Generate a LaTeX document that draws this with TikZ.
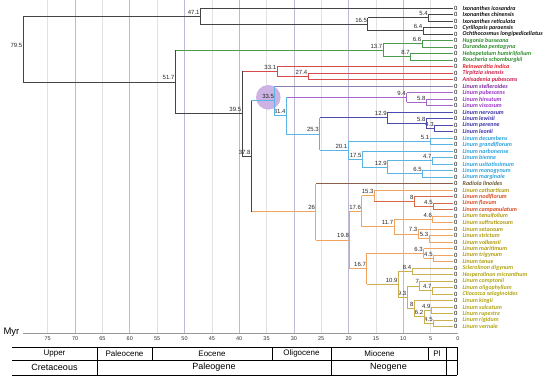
\documentclass[tikz,border=0pt]{standalone}
\usepackage{fontspec}
\setmainfont{Liberation Sans}
\newfontfamily\tipfont{Carlito}

% branch colours
\definecolor{lblk}{HTML}{444444}
\definecolor{lgrn}{HTML}{4E9A4E}
\definecolor{lred}{HTML}{D84A4A}
\definecolor{lpg}{HTML}{8C7FAE}
\definecolor{lpur}{HTML}{A566CC}
\definecolor{lind}{HTML}{4A4AB0}
\definecolor{lsky}{HTML}{5AB4E4}
\definecolor{lbrn}{HTML}{8C6048}
\definecolor{lora}{HTML}{F0A460}
\definecolor{lrdo}{HTML}{D86A48}
\definecolor{lgld}{HTML}{CCB050}
% label colours
\definecolor{tblk}{HTML}{111111}
\definecolor{tgrn}{HTML}{2E8B2E}
\definecolor{tred}{HTML}{E8202A}
\definecolor{tcrim}{HTML}{C8204C}
\definecolor{tpurd}{HTML}{7A2AA0}
\definecolor{tpur}{HTML}{9A30C8}
\definecolor{tind}{HTML}{3A30A8}
\definecolor{tsky}{HTML}{2AA0DC}
\definecolor{tbrn}{HTML}{6A5A30}
\definecolor{tolv}{HTML}{B09A10}
\definecolor{tora}{HTML}{D84A20}
\definecolor{tylw}{HTML}{B0A410}
% grid
\definecolor{gridb}{HTML}{BABAD6}
\definecolor{gridl}{HTML}{E2E2E2}
\definecolor{circ}{HTML}{CDB2E4}

\tikzset{
  agelbl/.style={anchor=south east, inner sep=0.6pt, yshift=1.2pt, text=black!85,
    font=\fontsize{6}{6}\selectfont},
  tiplbl/.style={anchor=west, inner sep=0pt,
    font=\tipfont\bfseries\itshape\fontsize{6}{6}\selectfont},
  zerolbl/.style={inner sep=0pt, font=\fontsize{6}{6}\selectfont},
  br/.style={line width=0.75pt},
  tick/.style={inner sep=0pt, text=black!80, font=\fontsize{5.5}{5.5}\selectfont},
  epoch/.style={inner sep=0pt, font=\fontsize{8}{8}\selectfont},
  period/.style={inner sep=0pt, font=\fontsize{9}{9}\selectfont},
}

% internal node: name, age (Myr), row
\newcommand{\clade}[3]{%
  \coordinate (#1) at ({458-5.47*#2},{1.5+6.5*#3});
  \node[agelbl] (#1l) at (#1) {#2};}

\begin{document}
\begin{tikzpicture}[x=1pt,y=-1pt]
\useasboundingbox (0,0) rectangle (550,380);

% time grid
\foreach \a in {5,15,...,75}
    \draw[gridl,line width=0.6pt] ({458-5.47*\a},0) -- ({458-5.47*\a},333);
\foreach \a in {10,20,...,70}
    \draw[gridb,line width=0.7pt] ({458-5.47*\a},0) -- ({458-5.47*\a},333);

% highlighted node
\fill[circ] (268.3,97.3) circle (12.3);

% internal nodes
\clade{n795}{79.5}{7.3203125}
\clade{n471}{47.1}{2.25}
\clade{n165}{16.5}{3.5}
\clade{n54}{5.4}{2.5}
\clade{n64}{6.4}{4.5}
\clade{n517}{51.7}{12.390625}
\clade{n137}{13.7}{7.5}
\clade{n66}{6.6}{6.5}
\clade{n87}{8.7}{8.5}
\clade{n395}{39.5}{17.28125}
\clade{n331}{33.1}{10.75}
\clade{n274}{27.4}{11.5}
\clade{n378}{37.8}{23.8125}
\clade{n335}{33.5}{15.28125}
\clade{n314}{31.4}{17.5625}
\clade{n94}{9.4}{14.75}
\clade{n58a}{5.8}{15.5}
\clade{n253}{25.3}{20.375}
\clade{n129a}{12.9}{17.875}
\clade{n58b}{5.8}{18.75}
\clade{n43}{4.3}{19.5}
\clade{n201}{20.1}{22.875}
\clade{n51}{5.1}{21.5}
\clade{n175}{17.5}{24.25}
\clade{n129b}{12.9}{25.5}
\clade{n47a}{4.7}{24.5}
\clade{n65}{6.5}{26.5}
\clade{n26}{26}{32.34375}
\clade{n198}{19.8}{36.6875}
\clade{n176}{17.6}{32.25}
\clade{n153}{15.3}{29.875}
\clade{n8a}{8}{30.75}
\clade{n45a}{4.5}{31.5}
\clade{n117}{11.7}{34.625}
\clade{n46}{4.6}{33.5}
\clade{n73}{7.3}{35.75}
\clade{n53}{5.3}{36.5}
\clade{n167}{16.7}{41.125}
\clade{n63}{6.3}{38.75}
\clade{n45b}{4.5}{39.5}
\clade{n109}{10.9}{43.5}
\clade{n84}{8.4}{41.5}
\clade{n93}{9.3}{45.5}
\clade{n7}{7}{43.75}
\clade{n47b}{4.7}{44.5}
\clade{n8b}{8}{47.25}
\clade{n62}{6.2}{48.5}
\clade{n49}{4.9}{47.5}
\clade{n45c}{4.5}{49.5}

% tips
\foreach \i/\sp/\c in {1/Ixonanthes icosandra/tblk, 2/Ixonanthes chinensis/tblk,
    3/Ixonanthes reticulata/tblk, 4/Cyrillopsis paraensis/tblk,
    5/Ochthocosmus longipedicellatus/tblk, 6/Hugonia busseana/tgrn,
    7/Durandea pentagyna/tgrn, 8/Hebepetalum humiriifolium/tgrn,
    9/Roucheria schomburgkii/tgrn, 10/Reinwardtia indica/tred,
    11/Tirpitzia sinensis/tcrim, 12/Anisadenia pubescens/tcrim,
    13/Linum stelleroides/tpurd, 14/Linum pubescens/tpur,
    15/Linum hirsutum/tpur, 16/Linum viscosum/tpur,
    17/Linum nervosum/tind, 18/Linum lewisii/tind,
    19/Linum perenne/tind, 20/Linum leonii/tind,
    21/Linum decumbens/tsky, 22/Linum grandiflorum/tsky,
    23/Linum narbonense/tsky, 24/Linum bienne/tsky,
    25/Linum usitatissimum/tsky, 26/Linum monogynum/tsky,
    27/Linum marginale/tsky, 28/Radiola linoides/tbrn,
    29/Linum catharticum/tolv, 30/Linum nodiflorum/tora,
    31/Linum flavum/tora, 32/Linum campanulatum/tora,
    33/Linum tenuifolium/tolv, 34/Linum suffruticosum/tolv,
    35/Linum setaceum/tolv, 36/Linum strictum/tolv,
    37/Linum volkensii/tolv, 38/Linum maritimum/tolv,
    39/Linum trigynum/tolv, 40/Linum tenue/tolv,
    41/Sclerolinon digynum/tylw, 42/Hesperolinon micranthum/tylw,
    43/Linum comptonii/tylw, 44/Linum oligophyllum/tylw,
    45/Cliococca selaginoides/tylw, 46/Linum kingii/tylw,
    47/Linum sulcatum/tylw, 48/Linum rupestre/tylw,
    49/Linum rigidum/tylw, 50/Linum vernale/tylw} {
    \coordinate (t\i) at (453,{1.5+6.5*\i});
    \node[zerolbl] (z\i) at (455.8,{1.5+6.5*\i}) {0};
    \node[tiplbl,text=\c] (s\i) at (462.5,{1.5+6.5*\i}) {\sp};
}

% horizontal branches, coloured by the child
\foreach \p/\q in {n795/n471, n795/n517, n471/t1, n471/n165, n165/n54, n165/n64,
    n54/t2, n54/t3, n64/t4, n64/t5, n517/n395, n395/n378}
    \draw[br,lblk] (\p |- \q) -- (\q);
\foreach \p/\q in {n517/n137, n137/n66, n137/n87, n66/t6, n66/t7, n87/t8, n87/t9}
    \draw[br,lgrn] (\p |- \q) -- (\q);
\foreach \p/\q in {n395/n331, n331/t10, n331/n274, n274/t11, n274/t12}
    \draw[br,lred] (\p |- \q) -- (\q);
\foreach \p/\q in {n378/n335, n335/n314, n314/n253, n253/n201, n201/n51, n201/n175,
    n51/t21, n51/t22, n175/t23, n175/n129b, n129b/n47a, n129b/n65,
    n47a/t24, n47a/t25, n65/t26, n65/t27}
    \draw[br,lsky] (\p |- \q) -- (\q);
\draw[br,lpg] (n335 |- t13) -- (t13);
\foreach \p/\q in {n314/n94, n94/t14, n94/n58a, n58a/t15, n58a/t16}
    \draw[br,lpur] (\p |- \q) -- (\q);
\foreach \p/\q in {n253/n129a, n129a/t17, n129a/n58b, n58b/t18, n58b/n43, n43/t19, n43/t20}
    \draw[br,lind] (\p |- \q) -- (\q);
\draw[br,lbrn] (n26 |- t28) -- (t28);
\foreach \p/\q in {n378/n26, n26/n198, n198/n176, n198/n167, n176/n153, n176/n117,
    n153/t29, n117/n46, n117/n73, n46/t33, n46/t34, n73/t35, n73/n53, n53/t36, n53/t37,
    n167/n63, n63/t38, n63/n45b, n45b/t39, n45b/t40}
    \draw[br,lora] (\p |- \q) -- (\q);
\foreach \p/\q in {n153/n8a, n8a/t30, n8a/n45a, n45a/t31, n45a/t32}
    \draw[br,lrdo] (\p |- \q) -- (\q);
\foreach \p/\q in {n167/n109, n109/n84, n109/n93, n84/t41, n84/t42, n93/n7, n93/n8b,
    n7/t43, n7/n47b, n47b/t44, n47b/t45, n8b/t46, n8b/n62, n62/n49, n62/n45c,
    n49/t47, n49/t48, n45c/t49, n45c/t50}
    \draw[br,lgld] (\p |- \q) -- (\q);

% vertical bars, coloured by the node: node/top/bottom
\foreach \n/\a/\b in {n795/n471/n517, n471/t1/n165, n165/n54/n64, n54/t2/t3,
    n64/t4/t5, n517/n137/n395, n395/n331/n378, n378/n335/n26}
    \draw[br,lblk] (\n |- \a) -- (\n |- \b);
\foreach \n/\a/\b in {n137/n66/n87, n66/t6/t7, n87/t8/t9}
    \draw[br,lgrn] (\n |- \a) -- (\n |- \b);
\foreach \n/\a/\b in {n331/t10/n274, n274/t11/t12}
    \draw[br,lred] (\n |- \a) -- (\n |- \b);
\foreach \n/\a/\b in {n335/t13/n314, n314/n94/n253, n253/n129a/n201, n201/n51/n175,
    n51/t21/t22, n175/t23/n129b, n129b/n47a/n65, n47a/t24/t25, n65/t26/t27}
    \draw[br,lsky] (\n |- \a) -- (\n |- \b);
\foreach \n/\a/\b in {n94/t14/n58a, n58a/t15/t16}
    \draw[br,lpur] (\n |- \a) -- (\n |- \b);
\foreach \n/\a/\b in {n129a/t17/n58b, n58b/t18/n43, n43/t19/t20}
    \draw[br,lind] (\n |- \a) -- (\n |- \b);
\foreach \n/\a/\b in {n26/t28/n198, n198/n176/n167, n176/n153/n117, n153/t29/n8a,
    n117/n46/n73, n46/t33/t34, n73/t35/n53, n53/t36/t37, n167/n63/n109,
    n63/t38/n45b, n45b/t39/t40}
    \draw[br,lora] (\n |- \a) -- (\n |- \b);
\foreach \n/\a/\b in {n8a/t30/n45a, n45a/t31/t32}
    \draw[br,lrdo] (\n |- \a) -- (\n |- \b);
\foreach \n/\a/\b in {n109/n84/n93, n84/t41/t42, n93/n7/n8b, n7/t43/n47b,
    n47b/t44/t45, n8b/t46/n62, n62/n49/n45c, n49/t47/t48, n45c/t49/t50}
    \draw[br,lgld] (\n |- \a) -- (\n |- \b);

% time axis
\draw[black!40,line width=0.8pt] (23,333) -- (458,333);
\node[font=\fontsize{9.5}{9.5}\selectfont,inner sep=0pt] (myr) at (11.5,332) {Myr};
\foreach \a in {0,5,...,75}
    \node[tick] (k\a) at ({458-5.47*\a},338.5) {\a};

% geological time scale
\foreach \y in {347,360,375}
    \draw[line width=0.8pt] (12,\y) -- (457,\y);
\foreach \x in {97,152,272,331,428,446,457}
    \draw[line width=0.8pt] (\x,347) -- (\x,360);
\foreach \x in {97,331,446,457}
    \draw[line width=0.8pt] (\x,360) -- (\x,375);
\node[epoch] (upper) at (54.5,353.5) {Upper};
\node[epoch] (paleoc) at (124.5,353.5) {Paleocene};
\node[epoch] (eoc) at (212,353.5) {Eocene};
\node[epoch] (oligo) at (301.5,353.5) {Oligocene};
\node[epoch] (mioc) at (379.5,353.5) {Miocene};
\node[epoch] (plio) at (437,353.5) {Pl};
\node[period] (cret) at (54.5,367.5) {Cretaceous};
\node[period] (paleog) at (214,367.5) {Paleogene};
\node[period] (neog) at (388.5,367.5) {Neogene};

\end{tikzpicture}
\end{document}
